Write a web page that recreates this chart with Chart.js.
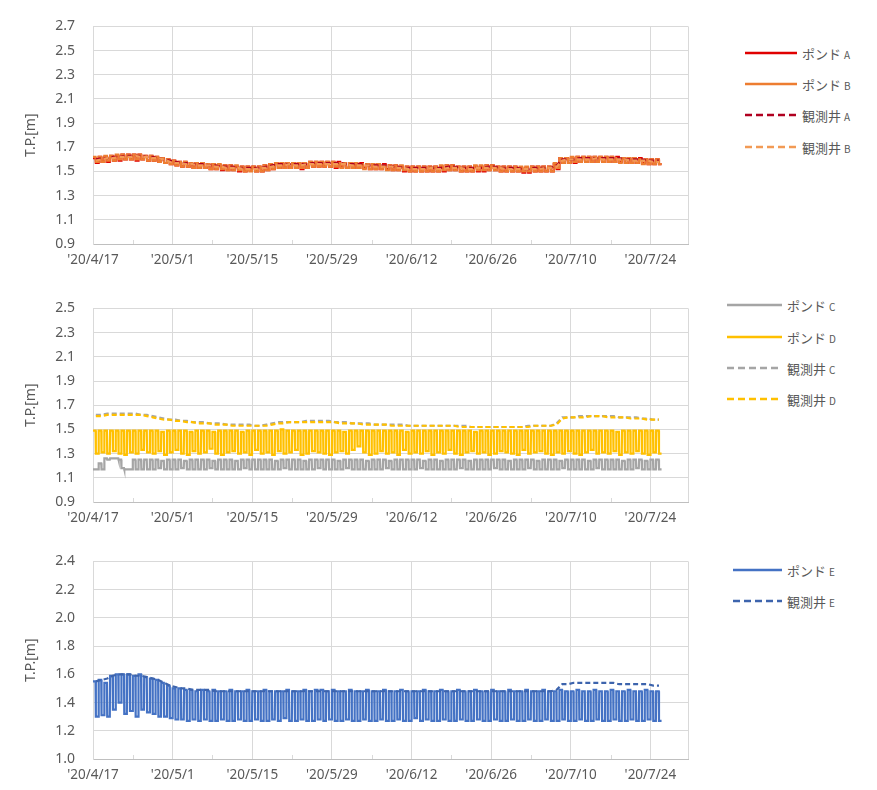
<!DOCTYPE html>
<html lang="ja">
<head>
<meta charset="UTF-8">
<title>ポンド・観測井 水位</title>
<script src="https://cdn.jsdelivr.net/npm/chart.js"></script>
<style>
  body { margin: 0; background: #fff; width: 877px; height: 790px; position: relative; overflow: hidden; }
  canvas { position: absolute; left: 0; }
  .legend { position: absolute; font-family: 'Noto Sans CJK JP', sans-serif; font-size: 13px; color: #595959; }
  .legend .row { position: absolute; left: 0; height: 20px; display: flex; align-items: center; white-space: nowrap; }
  .legend svg { margin-right: 3px; }
  .legend small { font-size: 10px; margin-left: 3px; }
</style>
</head>
<body>

<canvas id="c1" width="700" height="274" style="top:0px"></canvas>
<canvas id="c2" width="700" height="250" style="top:282px"></canvas>
<canvas id="c3" width="700" height="254" style="top:535px"></canvas>

<script>
// x axis: days counted from 2020/4/17
const xTickDays = [0, 14, 28, 42, 56, 70, 84, 98];
const xTickLabels = ["'20/4/17", "'20/5/1", "'20/5/15", "'20/5/29", "'20/6/12", "'20/6/26", "'20/7/10", "'20/7/24"];
const xMax = 104.6;

const yTicks1 = [0.9, 1.1, 1.3, 1.5, 1.7, 1.9, 2.1, 2.3, 2.5, 2.7];
const yTicks2 = [0.9, 1.1, 1.3, 1.5, 1.7, 1.9, 2.1, 2.3, 2.5];
const yTicks3 = [1.0, 1.2, 1.4, 1.6, 1.8, 2.0, 2.2, 2.4];

// panel 1 : daily high / low of ponds, daily level of wells
const pondAHi = [1.61,1.62,1.62,1.63,1.63,1.64,1.64,1.64,1.64,1.63,
  1.63,1.62,1.61,1.60,1.59,1.58,1.58,1.57,1.57,1.57,
  1.56,1.56,1.55,1.55,1.55,1.54,1.54,1.54,1.54,1.54,
  1.55,1.56,1.57,1.57,1.57,1.57,1.57,1.57,1.58,1.58,
  1.58,1.58,1.58,1.58,1.57,1.57,1.57,1.57,1.56,1.56,
  1.56,1.56,1.55,1.55,1.54,1.54,1.54,1.54,1.54,1.54,
  1.54,1.54,1.55,1.55,1.54,1.54,1.54,1.54,1.54,1.55,
  1.55,1.54,1.54,1.54,1.54,1.53,1.53,1.54,1.54,1.54,
  1.54,1.56,1.61,1.61,1.61,1.62,1.62,1.62,1.62,1.62,
  1.62,1.62,1.62,1.61,1.61,1.61,1.61,1.60,1.60,1.60];
const pondALo = [1.57,1.58,1.58,1.59,1.59,1.60,1.60,1.59,1.60,1.59,
  1.59,1.58,1.57,1.56,1.55,1.54,1.54,1.53,1.53,1.53,
  1.52,1.52,1.51,1.51,1.51,1.50,1.50,1.51,1.50,1.50,
  1.51,1.52,1.53,1.53,1.53,1.53,1.52,1.53,1.54,1.54,
  1.54,1.54,1.53,1.54,1.53,1.53,1.53,1.53,1.52,1.52,
  1.52,1.52,1.51,1.51,1.50,1.50,1.50,1.50,1.50,1.50,
  1.50,1.50,1.51,1.51,1.50,1.50,1.50,1.50,1.50,1.51,
  1.51,1.50,1.50,1.50,1.50,1.49,1.49,1.50,1.50,1.50,
  1.50,1.52,1.57,1.57,1.57,1.58,1.58,1.58,1.58,1.58,
  1.58,1.58,1.58,1.57,1.57,1.57,1.57,1.56,1.56,1.56];
const pondBHi = [1.62,1.62,1.63,1.63,1.64,1.64,1.64,1.64,1.64,1.63,
  1.63,1.62,1.61,1.60,1.59,1.58,1.58,1.57,1.57,1.57,
  1.56,1.56,1.56,1.55,1.55,1.55,1.54,1.54,1.54,1.54,
  1.55,1.56,1.57,1.57,1.57,1.57,1.57,1.57,1.58,1.58,
  1.58,1.58,1.58,1.57,1.57,1.57,1.57,1.56,1.56,1.56,
  1.56,1.55,1.55,1.55,1.55,1.54,1.54,1.54,1.54,1.54,
  1.54,1.55,1.55,1.55,1.54,1.54,1.54,1.55,1.55,1.55,
  1.55,1.54,1.54,1.54,1.54,1.54,1.54,1.54,1.54,1.54,
  1.54,1.57,1.61,1.61,1.62,1.62,1.62,1.62,1.62,1.62,
  1.62,1.62,1.61,1.61,1.61,1.61,1.60,1.60,1.60,1.60];
const pondBLo = [1.58,1.58,1.59,1.59,1.60,1.60,1.60,1.60,1.60,1.59,
  1.59,1.58,1.57,1.56,1.55,1.54,1.54,1.53,1.53,1.53,
  1.52,1.52,1.52,1.51,1.51,1.51,1.50,1.50,1.50,1.50,
  1.51,1.52,1.53,1.53,1.53,1.53,1.53,1.53,1.54,1.54,
  1.54,1.54,1.54,1.53,1.53,1.53,1.53,1.52,1.52,1.52,
  1.52,1.51,1.51,1.51,1.51,1.50,1.50,1.50,1.50,1.50,
  1.50,1.51,1.51,1.51,1.50,1.50,1.50,1.51,1.51,1.51,
  1.51,1.50,1.50,1.50,1.50,1.50,1.50,1.50,1.50,1.50,
  1.50,1.53,1.57,1.57,1.58,1.58,1.58,1.58,1.58,1.58,
  1.58,1.58,1.57,1.57,1.57,1.57,1.56,1.56,1.56,1.56];
const wellA = [1.60,1.61,1.61,1.62,1.62,1.63,1.63,1.63,1.63,1.62,
  1.62,1.61,1.60,1.59,1.58,1.57,1.57,1.56,1.56,1.56,
  1.55,1.55,1.54,1.54,1.54,1.53,1.53,1.53,1.53,1.53,
  1.54,1.55,1.56,1.56,1.56,1.56,1.56,1.56,1.57,1.57,
  1.57,1.57,1.57,1.57,1.56,1.56,1.56,1.56,1.55,1.55,
  1.55,1.55,1.54,1.54,1.53,1.53,1.53,1.53,1.53,1.53,
  1.53,1.53,1.54,1.54,1.53,1.53,1.53,1.53,1.53,1.54,
  1.54,1.53,1.53,1.53,1.53,1.52,1.52,1.53,1.53,1.53,
  1.53,1.55,1.60,1.60,1.60,1.61,1.61,1.61,1.61,1.61,
  1.61,1.61,1.61,1.60,1.60,1.60,1.60,1.59,1.59,1.59];
const wellB = [1.59,1.60,1.61,1.61,1.62,1.62,1.62,1.63,1.62,1.62,
  1.61,1.61,1.60,1.58,1.57,1.57,1.56,1.56,1.55,1.55,
  1.55,1.54,1.54,1.53,1.53,1.53,1.52,1.52,1.52,1.53,
  1.53,1.54,1.55,1.55,1.56,1.55,1.55,1.56,1.56,1.56,
  1.56,1.56,1.56,1.56,1.56,1.55,1.55,1.55,1.55,1.54,
  1.54,1.54,1.54,1.53,1.53,1.52,1.52,1.52,1.52,1.53,
  1.52,1.52,1.53,1.53,1.53,1.52,1.52,1.53,1.53,1.53,
  1.53,1.53,1.52,1.52,1.52,1.52,1.52,1.52,1.52,1.53,
  1.53,1.54,1.59,1.60,1.60,1.60,1.60,1.60,1.61,1.60,
  1.60,1.60,1.60,1.60,1.59,1.59,1.59,1.59,1.58,1.58];

// panel 2
const pondCHi = [1.17,1.22,1.26,1.26,1.26,1.18,1.17,1.25,1.25,1.25,
  1.25,1.25,1.24,1.25,1.25,1.25,1.24,1.25,1.25,1.25,
  1.25,1.24,1.25,1.25,1.25,1.24,1.25,1.25,1.25,1.25,
  1.25,1.25,1.24,1.25,1.25,1.25,1.25,1.24,1.25,1.25,
  1.25,1.25,1.25,1.24,1.25,1.25,1.25,1.25,1.24,1.25,
  1.25,1.25,1.24,1.25,1.25,1.25,1.25,1.25,1.24,1.25,
  1.25,1.24,1.25,1.25,1.25,1.25,1.24,1.25,1.25,1.25,
  1.25,1.25,1.25,1.24,1.25,1.25,1.25,1.25,1.24,1.25,
  1.25,1.25,1.24,1.25,1.25,1.25,1.25,1.24,1.25,1.25,
  1.25,1.25,1.25,1.24,1.25,1.25,1.25,1.24,1.25,1.25];
const pondCLo = [1.17,1.17,1.25,1.26,1.25,1.17,1.17,1.17,1.17,1.17,
  1.17,1.18,1.17,1.17,1.17,1.18,1.17,1.17,1.17,1.17,
  1.18,1.17,1.17,1.17,1.17,1.17,1.18,1.17,1.17,1.17,
  1.17,1.17,1.17,1.18,1.17,1.17,1.17,1.17,1.17,1.18,
  1.17,1.17,1.17,1.17,1.18,1.17,1.17,1.17,1.17,1.17,
  1.17,1.18,1.17,1.17,1.17,1.17,1.17,1.18,1.17,1.17,
  1.17,1.17,1.17,1.17,1.18,1.17,1.17,1.17,1.17,1.17,
  1.18,1.17,1.17,1.17,1.17,1.17,1.18,1.17,1.17,1.17,
  1.17,1.17,1.18,1.17,1.17,1.17,1.17,1.17,1.18,1.17,
  1.17,1.17,1.17,1.17,1.17,1.18,1.17,1.17,1.17,1.17];
const pondDHi = [1.49,1.49,1.49,1.49,1.49,1.49,1.49,1.49,1.49,1.49,
  1.49,1.49,1.48,1.49,1.49,1.49,1.49,1.48,1.49,1.49,
  1.49,1.48,1.49,1.49,1.49,1.49,1.48,1.49,1.49,1.49,
  1.49,1.49,1.49,1.50,1.49,1.49,1.49,1.49,1.49,1.49,
  1.49,1.49,1.49,1.49,1.48,1.49,1.49,1.49,1.49,1.49,
  1.49,1.49,1.49,1.49,1.49,1.48,1.49,1.49,1.49,1.49,
  1.49,1.49,1.49,1.49,1.49,1.49,1.49,1.48,1.49,1.49,
  1.49,1.49,1.49,1.49,1.49,1.49,1.49,1.49,1.49,1.49,
  1.49,1.49,1.49,1.49,1.49,1.49,1.49,1.49,1.49,1.49,
  1.49,1.49,1.48,1.49,1.49,1.49,1.49,1.49,1.49,1.49];
const pondDLo = [1.30,1.31,1.30,1.32,1.30,1.29,1.31,1.30,1.33,1.31,
  1.30,1.32,1.29,1.31,1.33,1.30,1.29,1.32,1.30,1.31,
  1.34,1.30,1.29,1.31,1.32,1.30,1.31,1.29,1.33,1.30,
  1.31,1.29,1.32,1.30,1.31,1.33,1.29,1.30,1.32,1.31,
  1.30,1.29,1.31,1.32,1.30,1.33,1.36,1.31,1.29,1.30,
  1.32,1.30,1.31,1.29,1.33,1.30,1.31,1.30,1.32,1.29,
  1.31,1.30,1.33,1.30,1.29,1.31,1.32,1.30,1.31,1.29,
  1.30,1.32,1.31,1.30,1.29,1.33,1.30,1.31,1.32,1.30,
  1.29,1.31,1.30,1.32,1.30,1.29,1.31,1.33,1.30,1.31,
  1.30,1.32,1.29,1.31,1.30,1.32,1.30,1.29,1.31,1.30];
const wellC = [1.62,1.62,1.63,1.63,1.63,1.63,1.63,1.63,1.62,1.62,
  1.61,1.60,1.59,1.58,1.58,1.57,1.57,1.56,1.56,1.56,
  1.55,1.55,1.55,1.54,1.54,1.54,1.54,1.54,1.53,1.53,
  1.54,1.55,1.56,1.56,1.56,1.56,1.56,1.57,1.57,1.57,
  1.57,1.57,1.56,1.56,1.56,1.55,1.55,1.55,1.55,1.54,
  1.54,1.54,1.54,1.54,1.54,1.53,1.53,1.53,1.53,1.53,
  1.53,1.53,1.53,1.53,1.53,1.53,1.52,1.52,1.52,1.52,
  1.52,1.52,1.52,1.52,1.52,1.52,1.53,1.53,1.53,1.53,
  1.53,1.55,1.60,1.60,1.60,1.61,1.61,1.61,1.61,1.61,
  1.61,1.61,1.60,1.60,1.60,1.60,1.59,1.59,1.58,1.58];
const wellD = [1.61,1.61,1.62,1.62,1.62,1.62,1.62,1.62,1.62,1.61,
  1.60,1.59,1.58,1.58,1.57,1.57,1.56,1.56,1.55,1.55,
  1.55,1.54,1.54,1.54,1.53,1.53,1.53,1.53,1.53,1.53,
  1.53,1.54,1.55,1.55,1.56,1.56,1.56,1.56,1.56,1.56,
  1.56,1.56,1.56,1.55,1.55,1.55,1.55,1.54,1.54,1.54,
  1.54,1.54,1.53,1.53,1.53,1.53,1.53,1.53,1.53,1.53,
  1.53,1.53,1.53,1.53,1.52,1.52,1.52,1.52,1.52,1.52,
  1.52,1.52,1.52,1.52,1.52,1.52,1.52,1.53,1.53,1.53,
  1.53,1.54,1.59,1.60,1.60,1.60,1.60,1.61,1.61,1.61,
  1.60,1.60,1.60,1.60,1.59,1.59,1.59,1.58,1.58,1.58];

// panel 3
const pondEHi = [1.55,1.56,1.54,1.59,1.60,1.60,1.60,1.59,1.60,1.58,
  1.57,1.56,1.54,1.52,1.50,1.50,1.49,1.49,1.48,1.49,
  1.48,1.49,1.48,1.48,1.49,1.48,1.48,1.49,1.48,1.48,
  1.49,1.48,1.48,1.48,1.49,1.48,1.48,1.49,1.48,1.49,
  1.49,1.48,1.49,1.48,1.48,1.49,1.48,1.48,1.49,1.48,
  1.48,1.49,1.48,1.48,1.49,1.48,1.48,1.48,1.49,1.48,
  1.48,1.49,1.48,1.48,1.49,1.48,1.48,1.49,1.48,1.48,
  1.49,1.48,1.48,1.49,1.48,1.48,1.49,1.48,1.48,1.49,
  1.48,1.48,1.49,1.48,1.48,1.49,1.48,1.48,1.49,1.48,
  1.48,1.49,1.48,1.48,1.49,1.48,1.48,1.49,1.48,1.48];
const pondELo = [1.30,1.31,1.30,1.35,1.40,1.32,1.34,1.30,1.35,1.33,
  1.32,1.30,1.30,1.29,1.28,1.28,1.27,1.28,1.27,1.28,
  1.27,1.27,1.28,1.27,1.27,1.28,1.27,1.27,1.28,1.27,
  1.27,1.28,1.27,1.29,1.27,1.27,1.28,1.27,1.27,1.28,
  1.27,1.28,1.27,1.27,1.28,1.27,1.27,1.28,1.27,1.27,
  1.28,1.27,1.27,1.28,1.27,1.27,1.29,1.27,1.28,1.27,
  1.27,1.28,1.27,1.27,1.28,1.27,1.27,1.28,1.27,1.27,
  1.28,1.27,1.27,1.28,1.27,1.27,1.28,1.27,1.27,1.28,
  1.27,1.27,1.28,1.27,1.27,1.28,1.27,1.27,1.28,1.27,
  1.27,1.28,1.27,1.27,1.28,1.27,1.27,1.28,1.27,1.27];
const wellE = [1.55,1.56,1.57,1.59,1.60,1.60,1.60,1.59,1.59,1.58,
  1.57,1.56,1.54,1.52,1.51,1.50,1.50,1.49,1.49,1.49,
  1.49,1.48,1.48,1.48,1.48,1.48,1.48,1.48,1.48,1.48,
  1.48,1.48,1.48,1.48,1.48,1.48,1.48,1.48,1.48,1.48,
  1.48,1.48,1.48,1.48,1.48,1.48,1.48,1.48,1.48,1.48,
  1.48,1.48,1.48,1.48,1.48,1.48,1.48,1.48,1.48,1.48,
  1.48,1.48,1.48,1.48,1.48,1.48,1.48,1.48,1.48,1.48,
  1.48,1.48,1.48,1.48,1.48,1.48,1.48,1.48,1.48,1.48,
  1.48,1.49,1.53,1.53,1.54,1.54,1.54,1.54,1.54,1.54,
  1.54,1.54,1.53,1.53,1.53,1.53,1.53,1.53,1.52,1.52];

// each day: high in the first half, low in the second half
function pondPoints(hi, lo) {
  const pts = [];
  hi.forEach((h, d) => {
    pts.push({x: d, y: h}, {x: d + 0.45, y: h}, {x: d + 0.5, y: lo[d]}, {x: d + 0.95, y: lo[d]});
  });
  return pts;
}
function wellPoints(v) {
  return v.map((y, d) => ({x: d + 0.5, y: y}));
}

const gridColor = '#d9d9d9';
const textColor = '#595959';

const frame = {
  id: 'frame',
  beforeDatasetsDraw(chart) {
    const {ctx, chartArea: a, scales: {x}} = chart;
    ctx.save();
    ctx.strokeStyle = gridColor;
    ctx.lineWidth = 1;
    ctx.beginPath();
    ctx.moveTo(Math.round(a.right) + 0.5, a.top);
    ctx.lineTo(Math.round(a.right) + 0.5, a.bottom);
    // minor tick marks half way between labels
    xTickDays.forEach(d => {
      const px = Math.round(x.getPixelForValue(d + 7)) + 0.5;
      if (px < a.right - 2) {
        ctx.moveTo(px, a.bottom);
        ctx.lineTo(px, a.bottom - 4);
      }
    });
    ctx.stroke();
    ctx.restore();
  }
};

function makePanel(id, yTicks, series) {
  const n = series.length;
  new Chart(document.getElementById(id), {
    type: 'line',
    data: {
      datasets: series.map((s, i) => ({
        label: s.name,
        data: s.data,
        borderColor: s.color,
        borderWidth: 2.2,
        borderDash: s.dash ? [5, 3] : [],
        pointRadius: 0,
        tension: 0,
        order: n - i
      }))
    },
    options: {
      responsive: false,
      animation: false,
      events: [],
      layout: { padding: { top: 15, right: 12, left: 0, bottom: 0 } },
      plugins: { legend: { display: false }, tooltip: { enabled: false } },
      scales: {
        x: {
          type: 'linear',
          min: 0,
          max: xMax,
          afterBuildTicks: scale => {
            const t = [];
            xTickDays.forEach(d => t.push({value: d}));
            scale.ticks = t;
          },
          afterFit: scale => { scale.height = 30; },
          ticks: {
            autoSkip: false,
            maxRotation: 0,
            padding: 8,
            color: textColor,
            font: { family: "'Noto Sans', sans-serif", size: 13.5 },
            callback: v => xTickLabels[xTickDays.indexOf(v)]
          },
          grid: { color: gridColor, drawTicks: false },
          border: { color: '#bfbfbf' }
        },
        y: {
          min: yTicks[0],
          max: yTicks[yTicks.length - 1],
          afterBuildTicks: scale => { scale.ticks = yTicks.map(v => ({value: v})); },
          afterFit: scale => { scale.width = 93; },
          ticks: {
            padding: 18,
            color: textColor,
            font: { family: "'Noto Sans', sans-serif", size: 14 },
            callback: v => v.toFixed(1)
          },
          grid: { color: gridColor, drawTicks: false },
          border: { color: gridColor },
          title: {
            display: true,
            text: 'T.P.[m]',
            color: textColor,
            font: { family: "'Noto Sans', sans-serif", size: 14 },
            padding: { top: 23, bottom: 0 }
          }
        }
      }
    },
    plugins: [frame]
  });
}

function makeLegend(series, left, lineW, rows) {
  const box = document.createElement('div');
  box.className = 'legend';
  box.style.left = left + 'px';
  box.style.top = '0px';
  series.forEach((s, i) => {
    const row = document.createElement('div');
    row.className = 'row';
    row.style.top = (rows[i] - 10) + 'px';
    const dash = s.dash ? ' stroke-dasharray="7 4"' : '';
    row.innerHTML = '<svg width="' + (lineW + 2) + '" height="6"><line x1="0" y1="3" x2="' + lineW +
      '" y2="3" stroke="' + s.color + '" stroke-width="2.5"' + dash + '/></svg>' +
      '<span>' + s.name + '<small>' + s.tag + '</small></span>';
    box.appendChild(row);
  });
  document.body.appendChild(box);
}

const series1 = [
  { name: 'ポンド', tag: 'A', color: '#e00000', data: pondPoints(pondAHi, pondALo) },
  { name: 'ポンド', tag: 'B', color: '#ed7d31', data: pondPoints(pondBHi, pondBLo) },
  { name: '観測井', tag: 'A', color: '#b00020', dash: true, data: wellPoints(wellA) },
  { name: '観測井', tag: 'B', color: '#f29a55', dash: true, data: wellPoints(wellB) }
];
const series2 = [
  { name: 'ポンド', tag: 'C', color: '#a5a5a5', data: pondPoints(pondCHi, pondCLo) },
  { name: 'ポンド', tag: 'D', color: '#ffc000', data: pondPoints(pondDHi, pondDLo) },
  { name: '観測井', tag: 'C', color: '#a5a5a5', dash: true, data: wellPoints(wellC) },
  { name: '観測井', tag: 'D', color: '#ffc000', dash: true, data: wellPoints(wellD) }
];
const series3 = [
  { name: 'ポンド', tag: 'E', color: '#4472c4', data: pondPoints(pondEHi, pondELo) },
  { name: '観測井', tag: 'E', color: '#3d64ad', dash: true, data: wellPoints(wellE) }
];

makePanel('c1', yTicks1, series1);
makePanel('c2', yTicks2, series2);
makePanel('c3', yTicks3, series3);

makeLegend(series1, 745, 52, [53, 84, 115, 147]);
makeLegend(series2, 727, 55, [305, 337, 368, 399]);
makeLegend(series3, 733, 49, [570, 601]);
</script>

</body>
</html>
